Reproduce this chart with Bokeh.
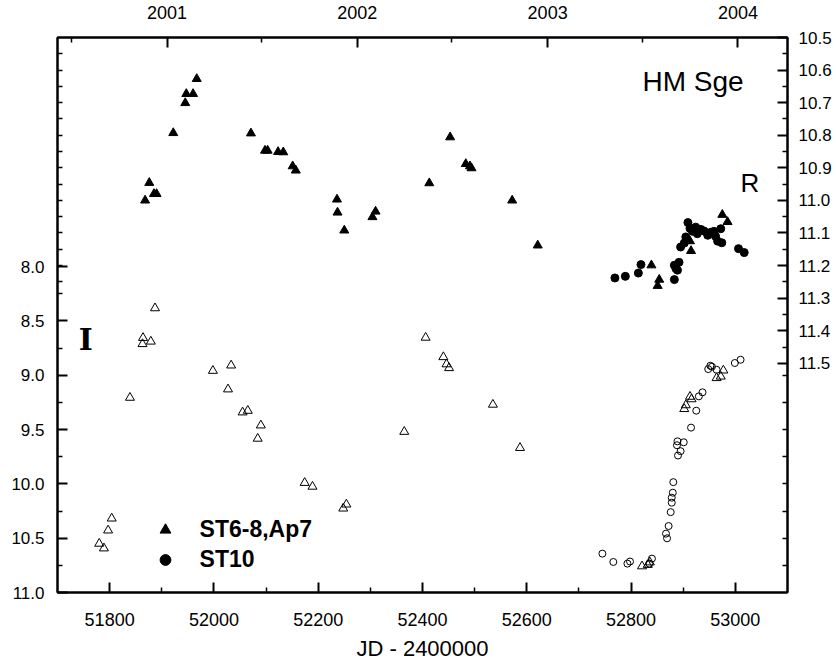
from bokeh.plotting import figure
from bokeh.models import (Range1d, LinearAxis, FixedTicker, PrintfTickFormatter,
                          Label, Legend, LegendItem)
from bokeh.embed import file_html
from bokeh.resources import INLINE

# ---------------- data ----------------
# R band (right axis), filled symbols
st68_R_jd = [51868, 51876, 51885, 51890, 51922, 51945, 51947, 51960, 51967, 52071,
             52098, 52103, 52123, 52133, 52151, 52157, 52236, 52237, 52250, 52304,
             52310, 52413, 52453, 52483, 52491, 52494, 52572, 52621, 52839, 52851,
             52854, 52913, 52915, 52975, 52985]
st68_R_mag = [11.000, 10.946, 10.980, 10.980, 10.793, 10.701, 10.673, 10.673, 10.627, 10.794,
              10.847, 10.847, 10.851, 10.852, 10.895, 10.908, 10.997, 11.037, 11.092, 11.051,
              11.034, 10.947, 10.806, 10.888, 10.895, 10.901, 11.000, 11.138, 11.199, 11.262,
              11.243, 11.125, 11.155, 11.044, 11.066]

st10_R_jd = [52769, 52789, 52814, 52819, 52883, 52883, 52886, 52889, 52892, 52895,
             52902, 52905, 52909, 52913, 52918, 52924, 52927, 52934, 52940, 52947,
             52953, 52959, 52962, 52966, 52974, 52972, 53006, 53017]
st10_R_mag = [11.238, 11.233, 11.223, 11.197, 11.243, 11.199, 11.209, 11.214, 11.190, 11.143,
              11.131, 11.112, 11.068, 11.086, 11.095, 11.082, 11.102, 11.089, 11.094, 11.107,
              11.098, 11.095, 11.110, 11.125, 11.130, 11.087, 11.148, 11.160]

# I band (left axis), open symbols
st68_I_jd = [51780, 51789, 51797, 51804, 51839, 51864, 51863, 51879, 51887, 51998,
             52027, 52033, 52055, 52065, 52084, 52090, 52174, 52189, 52248, 52254,
             52365, 52406, 52440, 52446, 52451, 52535, 52587, 52821, 52832, 52836,
             52902, 52905, 52913, 52916, 52964, 52972, 52977]
st68_I_mag = [10.550, 10.593, 10.428, 10.318, 9.206, 8.655, 8.712, 8.689, 8.382, 8.958,
              9.129, 8.909, 9.341, 9.326, 9.583, 9.461, 9.990, 10.025, 10.226, 10.189,
              9.520, 8.653, 8.832, 8.898, 8.933, 9.270, 9.668, 10.758, 10.745, 10.722,
              9.310, 9.275, 9.197, 9.220, 9.025, 9.011, 8.955]

st10_I_jd = [52745, 52766, 52793, 52798, 52835, 52840, 52867, 52869, 52872, 52876,
             52878, 52878, 52880, 52881, 52890, 52895, 52888, 52889, 52901, 52915,
             52925, 52930, 52937, 52948, 52952, 52955, 52964, 52999, 53010]
st10_I_mag = [10.642, 10.719, 10.734, 10.715, 10.734, 10.688, 10.458, 10.501, 10.388, 10.260,
              10.173, 10.127, 10.081, 9.984, 9.739, 9.699, 9.644, 9.608, 9.617, 9.482,
              9.326, 9.194, 9.157, 8.943, 8.912, 8.921, 8.949, 8.887, 8.857]

# ticks
jd_ticks = [51800, 52000, 52200, 52400, 52600, 52800, 53000]
jd_minor = [51900, 52100, 52300, 52500, 52700, 52900]
year_ticks = [51910, 52275, 52640, 53005]
year_labels = ["2001", "2002", "2003", "2004"]
halfyear_ticks = [51726, 52091, 52456, 52822]
I_ticks = [8.0, 8.5, 9.0, 9.5, 10.0, 10.5, 11.0]
I_minor = [8.25, 8.75, 9.25, 9.75, 10.25, 10.75]
R_ticks = [10.5, 10.6, 10.7, 10.8, 10.9, 11.0, 11.1, 11.2, 11.3, 11.4, 11.5]
R_minor = [10.55, 10.65, 10.75, 10.85, 10.95, 11.05, 11.15, 11.25, 11.35, 11.45]

# ---------------- scales ----------------
I_BOT, I_TOP = 11.0, 5.89
R_TOP = 10.5
R_BOT = R_TOP + (I_BOT - I_TOP) / 3.0


def r_to_i(r):
    return I_TOP + (r - R_TOP) * 3.0


def i_to_r(i):
    return R_TOP + (i - I_TOP) / 3.0


FONT = "Liberation Sans"

p = figure(width=836, height=663, x_range=Range1d(51700, 53100),
           y_range=Range1d(I_BOT, I_TOP), output_backend="svg",
           toolbar_location=None, min_border_left=57, min_border_right=49,
           min_border_top=37, min_border_bottom=70)
p.extra_y_ranges = {"R": Range1d(R_BOT, R_TOP)}
p.xgrid.visible = False
p.ygrid.visible = False
p.outline_line_color = "black"
p.outline_line_width = 2


def style_axis(ax, size):
    ax.axis_line_width = 2
    ax.major_tick_line_width = 2
    ax.minor_tick_line_width = 1.5
    ax.major_tick_in = 10
    ax.major_tick_out = 0
    ax.minor_tick_in = 5
    ax.minor_tick_out = 0
    ax.major_label_text_font = FONT
    ax.major_label_text_font_size = size
    ax.major_label_text_color = "black"


# bottom axis
xb = p.xaxis[0]
xb.ticker = FixedTicker(ticks=jd_ticks, minor_ticks=jd_minor)
xb.formatter = PrintfTickFormatter(format="%d")
style_axis(xb, "18px")
xb.major_label_standoff = 20
xb.axis_label = "JD - 2400000"
xb.axis_label_text_font = FONT
xb.axis_label_text_font_size = "22px"
xb.axis_label_text_font_style = "normal"
xb.axis_label_text_color = "black"
xb.axis_label_standoff = 7

# top axis (years)
xt = LinearAxis(ticker=FixedTicker(ticks=year_ticks, minor_ticks=halfyear_ticks),
                major_label_overrides={t: l for t, l in zip(year_ticks, year_labels)})
style_axis(xt, "18px")
xt.major_label_standoff = 19
p.add_layout(xt, "above")

# left axis (I)
yl = p.yaxis[0]
yl.ticker = FixedTicker(ticks=I_ticks,
                        minor_ticks=I_minor + [r_to_i(r) for r in
                                               [10.55, 10.6, 10.65, 10.7, 10.75, 10.8, 10.85, 10.9,
                                                10.95, 11.0, 11.05, 11.1, 11.15, 11.2, 11.25]])
yl.formatter = PrintfTickFormatter(format="%.1f")
style_axis(yl, "17px")
yl.major_label_standoff = 13

# right axis (R)
yr = LinearAxis(y_range_name="R",
                ticker=FixedTicker(ticks=R_ticks,
                                   minor_ticks=R_minor + [i_to_r(i) for i in
                                                          [9.0, 9.25, 9.5, 9.75, 10.0, 10.25, 10.5, 10.75]]),
                formatter=PrintfTickFormatter(format="%.1f"))
style_axis(yr, "17px")
yr.major_label_standoff = 11
p.add_layout(yr, "right")

# ---------------- data glyphs ----------------
r_tri = p.scatter(st68_R_jd, st68_R_mag, y_range_name="R", marker="triangle", size=9,
                  fill_color="black", line_color="black", line_width=1)
r_cir = p.scatter(st10_R_jd, st10_R_mag, y_range_name="R", marker="circle", size=8,
                  fill_color="black", line_color="black", line_width=1)
p.scatter(st68_I_jd, st68_I_mag, marker="triangle", size=9,
          fill_color=None, line_color="black", line_width=1)
p.scatter(st10_I_jd, st10_I_mag, marker="circle", size=7,
          fill_color=None, line_color="black", line_width=1)

# ---------------- legend ----------------
legend = Legend(items=[LegendItem(label="ST6-8,Ap7", renderers=[r_tri]),
                       LegendItem(label="ST10", renderers=[r_cir])],
                location=(87.6, 19.3), orientation="vertical",
                border_line_color=None, background_fill_alpha=0,
                padding=0, margin=0, spacing=3,
                glyph_width=40, glyph_height=27, label_height=27, label_standoff=15,
                label_text_font=FONT, label_text_font_style="bold",
                label_text_font_size="23px", label_text_color="black")
p.add_layout(legend)

# ---------------- texts ----------------
p.add_layout(Label(x=52822, y=6.292, text="HM Sge", text_font=FONT, text_color="black",
                   text_font_size="28px", text_baseline="alphabetic", text_align="left"))
p.add_layout(Label(x=53010, y=7.229, text="R", text_font=FONT, text_color="black",
                   text_font_size="26px", text_baseline="alphabetic", text_align="left"))
p.add_layout(Label(x=51754, y=8.666, text="I", text_font="DejaVu Serif", text_color="black",
                   text_font_style="bold",
                   text_font_size="30px", text_baseline="alphabetic", text_align="center"))

open("out.html", "w").write(file_html(p, INLINE))
